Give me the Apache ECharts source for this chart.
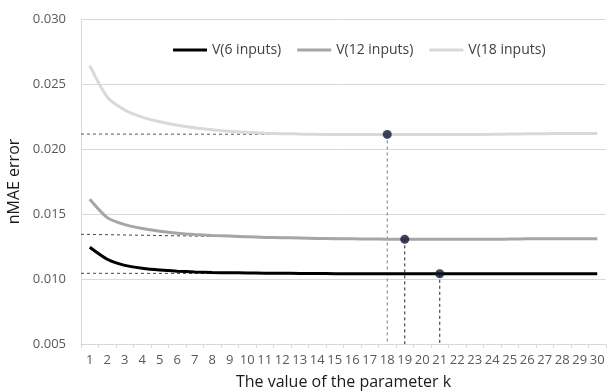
<!DOCTYPE html>
<html><head><meta charset="utf-8">
<script src="https://cdn.jsdelivr.net/npm/echarts@6/dist/echarts.min.js"></script>
<style>html,body{margin:0;padding:0;background:#fff}#c{width:608px;height:392px}</style>
</head><body><div id="c"></div>
<script>
var categories = ['1','2','3','4','5','6','7','8','9','10','11','12','13','14','15','16','17','18','19','20','21','22','23','24','25','26','27','28','29','30'];
var yTicks = [0.005, 0.010, 0.015, 0.020, 0.025, 0.030];
var seriesNames = ['V(6 inputs)', 'V(12 inputs)', 'V(18 inputs)'];
var v6 = [0.01244,0.01152,0.01105,0.01083,0.01069,0.0106,0.01054,0.0105,0.01048,0.01047,0.01045,0.01044,0.01043,0.01042,0.01041,0.0104,0.0104,0.0104,0.0104,0.0104,0.0104,0.0104,0.0104,0.0104,0.0104,0.0104,0.0104,0.0104,0.0104,0.0104];
var v12 = [0.01613,0.01472,0.01418,0.01388,0.01367,0.01352,0.01342,0.01335,0.0133,0.01325,0.0132,0.01318,0.01315,0.01312,0.0131,0.01309,0.01308,0.01306,0.01305,0.01305,0.01305,0.01305,0.01305,0.01305,0.01307,0.01309,0.0131,0.0131,0.0131,0.0131];
var v18 = [0.02641,0.0240,0.0230,0.02245,0.0221,0.02183,0.02163,0.02148,0.02136,0.02128,0.02122,0.02118,0.02115,0.02113,0.02112,0.02112,0.02112,0.02112,0.02112,0.02112,0.02112,0.02112,0.02112,0.02113,0.02115,0.02117,0.02118,0.02119,0.0212,0.0212];
var markerK = [18, 19, 21];
var markerV = [0.02112, 0.01305, 0.0104];
var refStartV = [0.02115, 0.01344, 0.01044];

var chart = echarts.init(document.getElementById('c'), null, {renderer:'canvas'});
var lineColors = ['#000000', '#a6a6a6', '#d9d9d9'];
var vals = [v6, v12, v18];
var series = [];
var vColors = ['#7f7f7f', '#222222', '#222222'];
var hColors = ['#555555', '#444444', '#444444'];
for (var i = 0; i < markerK.length; i++) {
  series.push({type:'line', xAxisIndex:1, symbol:'none', silent:true, z:1,
    lineStyle:{color:hColors[i], width:1, type:[3,3]},
    data:[[0.5, refStartV[i]], [markerK[i], markerV[i]]]});
  series.push({type:'line', xAxisIndex:1, symbol:'none', silent:true, z:1,
    lineStyle:{color:vColors[i], width:1, type:[3,3]},
    data:[[markerK[i], markerV[i]], [markerK[i], yTicks[0]]]});
}
for (var j = 0; j < 3; j++) {
  series.push({name:seriesNames[j], type:'line', smooth:0.25, symbol:'none', z:3,
    lineStyle:{color:lineColors[j], width:3}, itemStyle:{color:lineColors[j]},
    data:vals[j]});
}
series.push({type:'scatter', xAxisIndex:1, symbolSize:9, z:5,
  itemStyle:{color:'#0f1833'},
  data: markerK.map(function(k,i){return [k, markerV[i]];})});

chart.setOption({
  animation:false,
  grid:{left:81, right:2, top:19, bottom:48, containLabel:false, outerBoundsMode:'none'},
  legend:{data:seriesNames, top:38, left:168, itemWidth:34, itemHeight:3, itemGap:16,
    icon:'rect', textStyle:{color:'#404040', fontSize:14, fontFamily:'Open Sans'}},
  xAxis:[{type:'category', data:categories, boundaryGap:true,
    name:'The value of the parameter k', nameLocation:'middle', nameGap:30,
    nameTextStyle:{color:'#1a1a1a', fontSize:16, fontFamily:'Open Sans'},
    axisLine:{lineStyle:{color:'#d9d9d9'}},
    axisTick:{show:true, length:4, lineStyle:{color:'#d9d9d9'}},
    axisLabel:{color:'#595959', fontSize:13, margin:10, interval:0, fontFamily:'Open Sans'},
    splitLine:{show:false}},
   {type:'value', min:0.5, max:30.5, show:false}],
  yAxis:{type:'value', min:0.005, max:0.030, interval:0.005,
    name:'nMAE error', nameLocation:'middle', nameGap:54,
    nameTextStyle:{color:'#1a1a1a', fontSize:16, fontFamily:'Open Sans'},
    axisLine:{show:true, lineStyle:{color:'#d9d9d9'}},
    axisTick:{show:false},
    axisLabel:{color:'#595959', fontSize:13, margin:15, fontFamily:'Open Sans',
      formatter:function(v){return v.toFixed(3);}},
    splitLine:{lineStyle:{color:'#d9d9d9'}}},
  series:series
});
</script></body></html>
